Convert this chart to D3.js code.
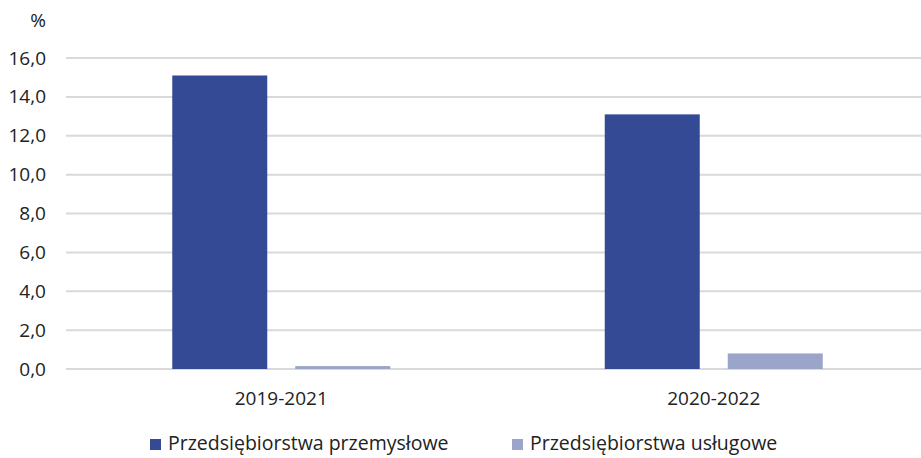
<!DOCTYPE html>
<html lang="pl">
<head>
<meta charset="utf-8">
<title>Przedsiębiorstwa</title>
<script src="https://d3js.org/d3.v7.min.js"></script>
<style>
  body { margin: 0; background: #fff; }
  text { font-family: "Open Sans", "Noto Sans", sans-serif; fill: #222; }
</style>
</head>
<body>
<script>
var width = 921, height = 458;

var categories = ["2019-2021", "2020-2022"];
var series = ["Przedsiębiorstwa przemysłowe", "Przedsiębiorstwa usługowe"];
var przemyslowe = [15.1, 13.1];
var uslugowe = [0.15, 0.8];
var yTicks = [0, 2, 4, 6, 8, 10, 12, 14, 16];
var colors = ["#344a94", "#9aa5c9"];

var values = [przemyslowe, uslugowe];

var svg = d3.select("body").append("svg")
    .attr("width", width)
    .attr("height", height);

var y = d3.scaleLinear().domain([0, 16]).range([369, 58]);

var x0 = d3.scaleBand().domain(categories).range([65, 930]);

var x1 = d3.scaleBand().domain(series)
    .range([0, x0.bandwidth()])
    .paddingInner(0.2276)
    .paddingOuter(0.872);

// gridlines
svg.append("g")
  .selectAll("line")
  .data(yTicks)
  .enter().append("line")
    .attr("x1", 66)
    .attr("x2", width)
    .attr("y1", function(d) { return y(d); })
    .attr("y2", function(d) { return y(d); })
    .attr("stroke", "#d9d9d9")
    .attr("stroke-width", 2);

// y labels
var yAxis = d3.axisLeft(y)
    .tickValues(yTicks)
    .tickSize(0)
    .tickPadding(0)
    .tickFormat(function(d) { return d3.format(".1f")(d).replace(".", ","); });

var ya = svg.append("g")
    .attr("transform", "translate(46,0)")
    .call(yAxis);
ya.select(".domain").remove();
ya.selectAll("text")
    .style("font-size", "19px")
    .attr("fill", "#222");

svg.append("text")
    .attr("x", 46)
    .attr("y", 27)
    .attr("text-anchor", "end")
    .style("font-size", "19px")
    .text("%");

// bars
var groups = svg.append("g")
  .selectAll("g")
  .data(categories)
  .enter().append("g")
    .attr("transform", function(d) { return "translate(" + x0(d) + ",0)"; });

groups.selectAll("rect")
  .data(function(d, i) {
    return series.map(function(s, j) { return { s: s, v: values[j][i], j: j }; });
  })
  .enter().append("rect")
    .attr("x", function(d) { return x1(d.s); })
    .attr("width", x1.bandwidth())
    .attr("y", function(d) { return y(d.v); })
    .attr("height", function(d) { return y(0) - y(d.v); })
    .attr("fill", function(d) { return colors[d.j]; });

// x labels
var xAxis = d3.axisBottom(x0).tickSize(0).tickPadding(0);
var xa = svg.append("g")
    .attr("transform", "translate(0,386)")
    .call(xAxis);
xa.select(".domain").remove();
xa.selectAll("text")
    .attr("dy", null)
    .attr("y", 19)
    .style("font-size", "19px")
    .attr("fill", "#222");

// legend
var legendX = [150, 512];
var legend = svg.append("g")
  .selectAll("g")
  .data(series)
  .enter().append("g")
    .attr("transform", function(d, i) { return "translate(" + legendX[i] + ",439)"; });

legend.append("rect")
    .attr("width", 11)
    .attr("height", 11)
    .attr("fill", function(d, i) { return colors[i]; });

legend.append("text")
    .attr("x", 18)
    .attr("y", 11)
    .style("font-size", "19.5px")
    .text(function(d) { return d; });
</script>
</body>
</html>
